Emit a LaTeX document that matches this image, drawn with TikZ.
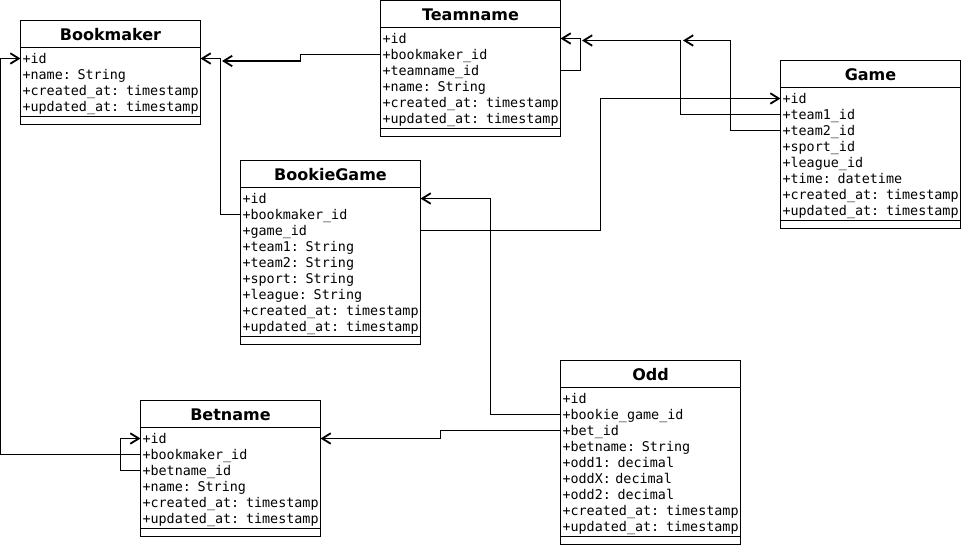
\documentclass[tikz,border=0pt]{standalone}
\usepackage{fontspec}
\setmainfont{DejaVu Sans}
\setmonofont{DejaVu Sans Mono}
\usetikzlibrary{arrows.meta,calc}

\tikzset{
  boxline/.style={draw=black, line width=1.8pt},
  classframe/.style={boxline, anchor=north west, minimum width=180pt, inner sep=0pt, outer sep=0pt},
  classtitle/.style={anchor=base, inner sep=0pt, font=\fontsize{16}{19}\selectfont\bfseries},
  fieldrow/.style={anchor=north west, inner xsep=2pt, inner ysep=0pt, outer sep=0pt,
    text width=176pt, align=left, minimum height=16pt, text height=10.5pt, text depth=1pt,
    font=\ttfamily\fontsize{13.4}{16}\selectfont},
  fk/.style={draw=black, line width=1.8pt, -{Straight Barb[length=8.5pt,width=10.5pt]}},
}

% A UML class: id, left x, top y, title, list of fields
\newcommand\umlclass[5]{%
  \foreach \f [count=\k] in {#5} {
    \node[fieldrow] (#1-\k) at (#2,{#3+30+16*(\k-1)}) {\mbox{\f}};
    \xdef\umlrows{\k}
  }
  \node[classframe, minimum height={40+16*\umlrows}] (#1) at (#2,#3) {};
  \node[classtitle] (#1-title) at ({#2+90},{#3+19.5}) {#4};
  \draw[boxline] ($(#1.north west)+(0,27)$) -- ++(180,0);
  \draw[boxline] ($(#1.south west)+(0,-8)$) -- ++(180,0);
}

\begin{document}
\begin{tikzpicture}[x=1pt, y=-1pt]
  \useasboundingbox (0,0) rectangle (961,546);
  \fill[white] (0,0) rectangle (961,546);

  \umlclass{bm}{20.5}{20.5}{Bookmaker}{+id, +name: String, +created\_at: timestamp, +updated\_at: timestamp}
  \umlclass{tn}{380.5}{0.5}{Teamname}{+id, +bookmaker\_id, +teamname\_id, +name: String, +created\_at: timestamp, +updated\_at: timestamp}
  \umlclass{gm}{780.5}{60.5}{Game}{+id, +team1\_id, +team2\_id, +sport\_id, +league\_id, +time: datetime, +created\_at: timestamp, +updated\_at: timestamp}
  \umlclass{bg}{240.5}{160.5}{BookieGame}{+id, +bookmaker\_id, +game\_id, +team1: String, +team2: String, +sport: String, +league: String, +created\_at: timestamp, +updated\_at: timestamp}
  \umlclass{bn}{140.5}{400.5}{Betname}{+id, +bookmaker\_id, +betname\_id, +name: String, +created\_at: timestamp, +updated\_at: timestamp}
  \umlclass{od}{560.5}{360.5}{Odd}{+id, +bookie\_game\_id, +bet\_id, +betname: String, +odd1: decimal, +oddX: decimal, +odd2: decimal, +created\_at: timestamp, +updated\_at: timestamp}

  % free ends of the connectors that stop short of a class
  \coordinate (bmtn) at ($(bm-1.east)+(21.5,2.5)$);
  \coordinate (tnt1) at ($(tn-1.east)+(21.5,2)$);
  \coordinate (tnt2) at ($(tn-1.east)+(122.5,2)$);

  % foreign keys
  \draw[fk] (tn-2.west) -- ++(-80,0) |- (bmtn);
  \draw[fk] (bg-2.west) -- ++(-20,0) |- (bm-1.east);
  \draw[fk] (tn-3.east) -- ++(20,0) |- (tn-1.east);
  \draw[fk] (gm-2.west) -- ++(-100,0) |- (tnt1);
  \draw[fk] (gm-3.west) -- ++(-50,0) |- (tnt2);
  \draw[fk] (bg-3.east) -- ++(180,0) |- (gm-1.west);
  \draw[fk] (od-2.west) -- ++(-70,0) |- (bg-1.east);
  \draw[fk] (od-3.west) -- ++(-120,0) |- (bn-1.east);
  \draw[fk] (bn-2.west) -- ++(-140,0) |- (bm-1.west);
  \draw[fk] (bn-3.west) -- ++(-20,0) |- (bn-1.west);
\end{tikzpicture}
\end{document}
